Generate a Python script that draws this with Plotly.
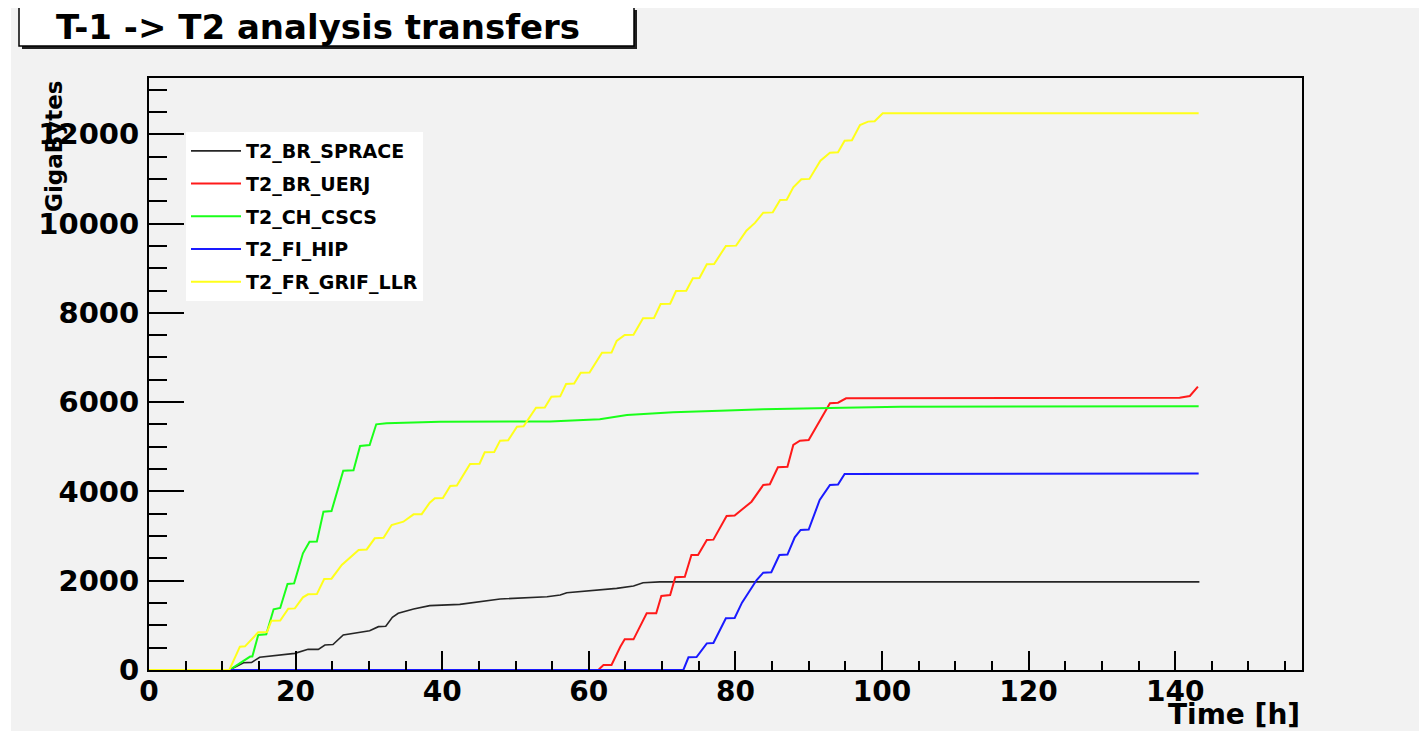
import plotly.graph_objects as go

# ---------------- data ----------------
series_names = ["T2_BR_SPRACE", "T2_BR_UERJ", "T2_CH_CSCS", "T2_FI_HIP", "T2_FR_GRIF_LLR"]
series_colors = ["#262626", "#ff1a1a", "#1aff1a", "#1a1aff", "#ffff1a"]

sprace_t = [0, 10.96, 12.9, 14.0, 15.1, 18.3, 19.9, 21.7, 23.1, 24.0, 25.1, 26.5, 28.1, 30.1, 31.3,
            32.3, 33.2, 34.0, 36.1, 38.3, 42.4, 45.2, 47.9, 54.3, 56.1, 57.0, 60.6, 63.8, 66.1,
            67.4, 69.7, 143.3]
sprace_v = [0, 0, 164, 170, 284, 336, 373, 463, 463, 560, 570, 784, 821, 881, 971,
            980, 1180, 1270, 1366, 1441, 1471, 1530, 1590, 1642, 1680, 1730, 1777, 1829, 1882,
            1956, 1975, 1975]

uerj_t = [0, 61.3, 62.0, 63.1, 64.3, 64.9, 66.1, 67.9, 69.2, 69.9, 71.1, 71.8, 73.1, 74.0, 74.9,
          76.1, 77.0, 78.8, 79.9, 82.2, 83.8, 84.7, 85.8, 87.1, 87.9, 88.8, 90.0, 92.9, 94.0,
          95.1, 140.6, 142.0, 143.1]
uerj_v = [0, 0, 112, 112, 522, 687, 687, 1270, 1270, 1658, 1680, 2076, 2090, 2576, 2576,
          2912, 2920, 3450, 3460, 3770, 4144, 4160, 4540, 4550, 5040, 5137, 5150, 5974, 5988,
          6086, 6100, 6137, 6347]

cscs_t = [0, 10.96, 13.8, 14.1, 14.9, 16.0, 17.0, 17.9, 18.9, 19.8, 21.0, 21.9, 22.9, 23.8, 24.9,
          26.5, 27.9, 28.8, 30.1, 31.0, 32.4, 39.7, 54.7, 61.5, 65.2, 71.5, 77.9, 83.8, 94.7,
          102.5, 143.2]
cscs_v = [0, 0, 300, 300, 784, 800, 1360, 1390, 1926, 1940, 2614, 2875, 2880, 3546, 3560,
          4465, 4475, 5018, 5040, 5503, 5526, 5562, 5565, 5615, 5712, 5772, 5808, 5839, 5875,
          5898, 5910]

hip_t = [0, 72.9, 73.6, 74.7, 76.1, 77.0, 78.7, 79.9, 80.9, 82.9, 83.8, 84.9, 86.0, 87.1, 88.1,
         88.9, 90.0, 91.5, 92.9, 94.0, 94.9, 143.2]
hip_v = [0, 0, 284, 290, 597, 605, 1157, 1165, 1508, 2016, 2180, 2190, 2576, 2585, 2972,
         3136, 3145, 3808, 4144, 4155, 4390, 4400]

llr_t = [0, 10.96, 12.4, 13.1, 14.9, 16.1, 16.7, 17.9, 19.0, 19.9, 21.0, 21.7, 22.9, 23.9, 24.9,
         26.3, 28.6, 29.7, 30.8, 32.0, 33.1, 34.7, 36.1, 37.2, 38.3, 39.0, 40.1, 41.1, 42.0,
         43.8, 45.1, 45.8, 47.1, 47.9, 49.0, 50.2, 51.1, 52.8, 54.0, 54.9, 56.1, 56.9, 58.0,
         58.9, 60.1, 61.8, 63.1, 63.8, 64.9, 66.1, 67.4, 68.9, 69.8, 71.1, 71.9, 73.3, 74.2,
         75.1, 76.1, 77.1, 78.7, 80.1, 81.5, 82.7, 83.8, 85.1, 86.1, 87.0, 87.9, 89.0, 90.1,
         91.6, 92.9, 94.0, 94.9, 95.9, 97.0, 98.1, 99.0, 100.1, 143.2]
llr_v = [0, 0, 522, 530, 844, 850, 1105, 1110, 1374, 1380, 1628, 1695, 1700, 2038, 2045,
         2352, 2688, 2700, 2950, 2960, 3248, 3322, 3487, 3490, 3748, 3848, 3850, 4122, 4130,
         4614, 4620, 4876, 4885, 5137, 5145, 5450, 5460, 5876, 5880, 6122, 6130, 6406, 6415,
         6660, 6665, 7107, 7110, 7370, 7504, 7510, 7878, 7885, 8198, 8205, 8490, 8495, 8774,
         8780, 9088, 9095, 9498, 9505, 9840, 10020, 10244, 10250, 10528, 10535, 10812, 10991, 11000,
         11409, 11588, 11595, 11857, 11865, 12208, 12283, 12290, 12468, 12468]

series_t = [sprace_t, uerj_t, cscs_t, hip_t, llr_t]
series_v = [sprace_v, uerj_v, cscs_v, hip_v, llr_v]
series_widths = [1.6, 2, 2, 2, 2]

x_ticks = [0, 20, 40, 60, 80, 100, 120, 140]
y_ticks = [0, 2000, 4000, 6000, 8000, 10000, 12000]
y_tick_labels = ["0", "2000", "4000", "6000", "8000", "10000", "12000"]

title_text = "T-1 -> T2 analysis transfers"
x_title = "Time [h]"
y_title = "GigaBytes"

# ---------------- layout geometry ----------------
# the page body has an 8px margin, so work in page pixels and subtract it
OFF = 8
W, H = 1427 - 2 * OFF, 739 - 2 * OFF
L, R, T, B = 149 - OFF, 1302 - OFF, 78 - OFF, 670 - OFF


def fx(px):
    return (px - OFF - L) / (R - L)


def fy(py):
    return (B - (py - OFF)) / (B - T)


BOLD = dict(family="DejaVu Sans", weight="bold", color="black")

fig = go.Figure()
for name, color, t, v, w in zip(series_names, series_colors, series_t, series_v, series_widths):
    fig.add_trace(go.Scatter(x=t, y=v, mode="lines", name=name, legendgroup=name,
                             line=dict(color=color, width=w)))

fig.update_layout(
    width=W, height=H,
    margin=dict(l=L, r=W - R, t=T, b=H - B, pad=0),
    paper_bgcolor="white",
    plot_bgcolor="#f2f2f2",
    showlegend=True,
    legend=dict(x=fx(186), y=fy(132), xanchor="left", yanchor="top",
                bgcolor="white", borderwidth=0,
                font=dict(family="DejaVu Sans", weight="bold", size=19, color="black"),
                tracegroupgap=5, itemwidth=50),
    xaxis=dict(range=[0, 157.3], tickvals=x_ticks, ticks="inside", ticklen=19, tickwidth=2,
               tickcolor="black", showline=True, linecolor="black", linewidth=2, mirror=True,
               showgrid=False, zeroline=False,
               tickfont=dict(size=28, **BOLD), ticklabelstandoff=-5,
               minor=dict(dtick=5, tick0=0, ticks="inside", ticklen=9, tickwidth=2,
                          tickcolor="black", showgrid=False)),
    yaxis=dict(range=[0, 13260], tickvals=y_ticks, ticktext=y_tick_labels,
               ticks="inside", ticklen=35, tickwidth=2,
               tickcolor="black", showline=True, linecolor="black", linewidth=2, mirror=True,
               showgrid=False, zeroline=False,
               tickfont=dict(size=29, **BOLD), ticklabelstandoff=2,
               minor=dict(dtick=500, tick0=0, ticks="inside", ticklen=18, tickwidth=2,
                          tickcolor="black", showgrid=False)),
    shapes=[
        # canvas
        dict(type="rect", xref="paper", yref="paper", x0=fx(11), x1=fx(1421), y0=fy(740), y1=fy(5),
             fillcolor="#f2f2f2", line=dict(width=0), layer="below"),
        # title box shadow
        dict(type="rect", xref="paper", yref="paper", x0=fx(22), x1=fx(637), y0=fy(49), y1=fy(10),
             fillcolor="#202020", line=dict(width=0), layer="above"),
        # title box
        dict(type="rect", xref="paper", yref="paper", x0=fx(19), x1=fx(634), y0=fy(46), y1=fy(7),
             fillcolor="white", line=dict(color="black", width=1.5), layer="above"),
    ],
    annotations=[
        dict(text=title_text, xref="paper", yref="paper", x=fx(318), y=fy(27),
             xanchor="center", yanchor="middle", showarrow=False,
             font=dict(size=34, **BOLD)),
        dict(text=x_title, xref="paper", yref="paper", x=1, y=fy(714),
             xanchor="right", yanchor="middle", showarrow=False,
             font=dict(size=28, **BOLD)),
        dict(text=y_title, xref="paper", yref="paper", x=fx(54), y=1,
             xanchor="center", yanchor="top", textangle=-90, showarrow=False,
             font=dict(size=23, **BOLD)),
    ],
)

fig.write_html("out.html")
